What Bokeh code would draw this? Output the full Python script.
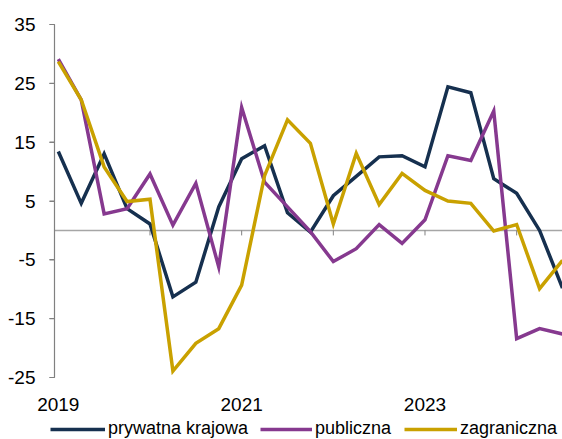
import numpy as np
from bokeh.plotting import figure
from bokeh.models import Legend, LegendItem, FixedTicker, Range1d
from bokeh.embed import file_html
from bokeh.resources import INLINE

# quarterly data, 2019Q1 .. 2024Q3
years    = [2019, 2019, 2019, 2019, 2020, 2020, 2020, 2020, 2021, 2021, 2021, 2021,
            2022, 2022, 2022, 2022, 2023, 2023, 2023, 2023, 2024, 2024, 2024]
quarters = [1, 2, 3, 4, 1, 2, 3, 4, 1, 2, 3, 4, 1, 2, 3, 4, 1, 2, 3, 4, 1, 2, 3]

prywatna_krajowa = [13.4, 4.6, 13.0, 3.7, 1.1, -11.3, -8.8, 4.0, 12.2, 14.4, 3.0, -0.3,
                    5.9, 9.2, 12.5, 12.7, 10.8, 24.4, 23.4, 8.8, 6.3, 0.0, -9.8]
publiczna        = [29.1, 22.2, 2.8, 3.7, 9.6, 0.9, 8.0, -6.2, 20.9, 8.2, 4.0, -0.2,
                    -5.3, -3.1, 1.0, -2.2, 1.8, 12.7, 11.9, 20.3, -18.4, -16.7, -17.6]
zagraniczna      = [28.7, 22.2, 10.8, 4.9, 5.3, -23.9, -19.2, -16.7, -9.3, 9.3, 18.8, 14.8,
                    1.1, 13.1, 4.4, 9.7, 6.8, 5.0, 4.6, -0.1, 1.0, -9.9, -5.1]

series_labels = ["prywatna krajowa", "publiczna", "zagraniczna"]
y_ticks = [-25, -15, -5, 5, 15, 25, 35]
y_min, y_max = -25, 35
x_label_years = [2019, 2021, 2023]
year_boundaries = [2020, 2021, 2022, 2023, 2024]

COLORS = ["#16304f", "#86398f", "#c9a100"]
AXIS_GRAY = "#808080"
FONT = "Liberation Sans"

x = [y + (q - 1) / 4 for y, q in zip(years, quarters)]
half_month = 1 / 24
axis_x = 2019 - half_month
x_last = 2024.5

# layout in pixels (figure fills the window; everything is drawn inside the frame)
W, H = 562, 439
AXIS_PX, RIGHT_PX = 54, 562      # page x of the y axis and of the last quarter
TOP_PX, BOT_PX = 24, 377         # page y of 35 and of -25
TICK_PX = 5
ppy = (RIGHT_PX - AXIS_PX) / (x_last - axis_x)
ppu = (BOT_PX - TOP_PX) / (y_max - y_min)
x_start = axis_x - AXIS_PX / ppy
x_end = x_last + (W - RIGHT_PX) / ppy
y_end = y_max + TOP_PX / ppu
y_start = y_min - (H - BOT_PX) / ppu

p = figure(width=W, height=H, output_backend="svg", toolbar_location=None,
           x_range=Range1d(x_start, x_end), y_range=Range1d(y_start, y_end),
           min_border_left=0, min_border_right=0, min_border_top=0, min_border_bottom=0)
p.xgrid.visible = False
p.ygrid.visible = False
p.outline_line_color = None
p.background_fill_color = "white"
p.border_fill_color = "white"

# y axis labels at the start of 2019
p.yaxis.fixed_location = axis_x
p.yaxis.bounds = (y_min, y_max)
p.yaxis.ticker = FixedTicker(ticks=y_ticks)
p.yaxis.major_label_overrides = {t: str(t) for t in y_ticks}
p.yaxis.axis_line_color = AXIS_GRAY
p.yaxis.major_tick_line_color = AXIS_GRAY
p.yaxis.major_tick_in = 0
p.yaxis.major_tick_out = TICK_PX
p.yaxis.minor_tick_line_color = None
p.yaxis.major_label_standoff = 14
p.yaxis.major_label_text_font = FONT
p.yaxis.major_label_text_font_size = "19px"
p.yaxis.major_label_text_color = "black"

# x axis (labels only), drawn at the bottom of the value band
p.xaxis.fixed_location = y_min
p.xaxis.ticker = FixedTicker(ticks=x_label_years)
p.xaxis.axis_line_color = None
p.xaxis.major_tick_line_color = None
p.xaxis.minor_tick_line_color = None
p.xaxis.major_label_standoff = 14
p.xaxis.major_label_text_font = FONT
p.xaxis.major_label_text_font_size = "19px"
p.xaxis.major_label_text_color = "black"

# zero line from the axis to the right edge, with year tick marks
p.line(x=[axis_x, x_end], y=[0, 0], line_color="#a6a6a6", line_width=1.5)
p.scatter(x=year_boundaries, y=[-TICK_PX / 2 / ppu] * len(year_boundaries),
          marker="dash", angle=np.pi / 2, size=TICK_PX, line_color=AXIS_GRAY, line_width=1)

# y axis rule and outward ticks
p.line(x=[axis_x, axis_x], y=[y_min, y_max], line_color=AXIS_GRAY, line_width=1.2)
p.scatter(x=[axis_x - TICK_PX / 2 / ppy] * len(y_ticks), y=y_ticks,
          marker="dash", size=TICK_PX, line_color=AXIS_GRAY, line_width=1.2)

renderers = []
for vals, col in zip([prywatna_krajowa, publiczna, zagraniczna], COLORS):
    r = p.line(x, vals, line_color=col, line_width=3.5, line_join="miter")
    renderers.append(r)

legend_x = [50, 260, 404]
glyph_w = [55, 52, 53]
for r, lab, lx, gw in zip(renderers, series_labels, legend_x, glyph_w):
    leg = Legend(items=[LegendItem(label=lab, renderers=[r])], location=(lx, 0),
                 orientation="horizontal", glyph_width=gw, glyph_height=18, label_height=18,
                 label_standoff=3, padding=0, margin=0, spacing=0,
                 border_line_color=None, background_fill_alpha=0,
                 label_text_font=FONT, label_text_font_size="18px", label_text_color="black")
    p.add_layout(leg)

open("out.html", "w").write(file_html(p, INLINE))
